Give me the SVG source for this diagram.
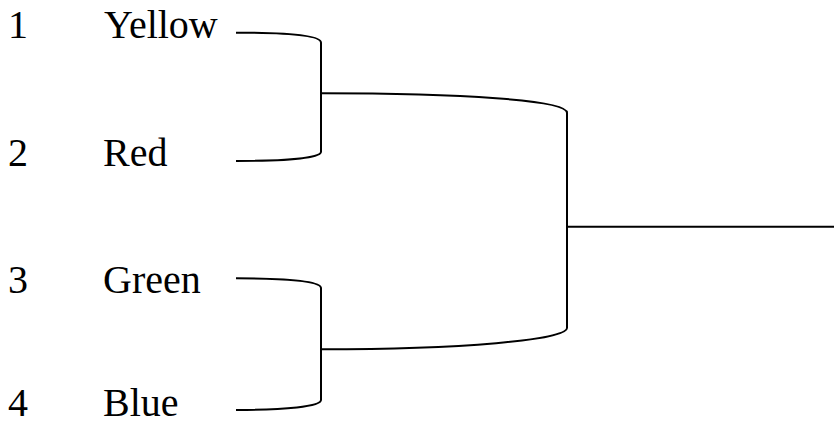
<svg xmlns="http://www.w3.org/2000/svg" width="835" height="423" viewBox="0 0 835 423">
<style>
.c{fill:none;stroke:#000;stroke-width:2}
.t{font-family:"Liberation Serif";font-size:40px;fill:#000}
</style>
<rect width="835" height="423" fill="#fff"/>
<g id="team1"><text class="t" x="8" y="38">1</text><text class="t" x="104" y="38">Yellow</text></g>
<g id="team2"><text class="t" x="8" y="165.5">2</text><text class="t" x="103" y="165.5">Red</text></g>
<g id="team3"><text class="t" x="8" y="292.5">3</text><text class="t" x="103" y="292.5">Green</text></g>
<g id="team4"><text class="t" x="8" y="416">4</text><text class="t" x="103" y="416">Blue</text></g>
<g id="connectors">
<path class="c" d="M236,32.7 C285,32.7 321,35 321,42.7 L321,151.7 C321,158 285,161 236,161"/>
<path class="c" d="M236,278.3 C285,278.3 321,281 321,288 L321,400 C321,406.5 285,410 236,410"/>
<path class="c" d="M321,93.3 C460,93.3 567,100 567,112.7 L567,328 C567,340 460,349.3 321,349.3"/>
<path class="c" d="M567,226.7 L834,226.7"/>
</g>
</svg>
